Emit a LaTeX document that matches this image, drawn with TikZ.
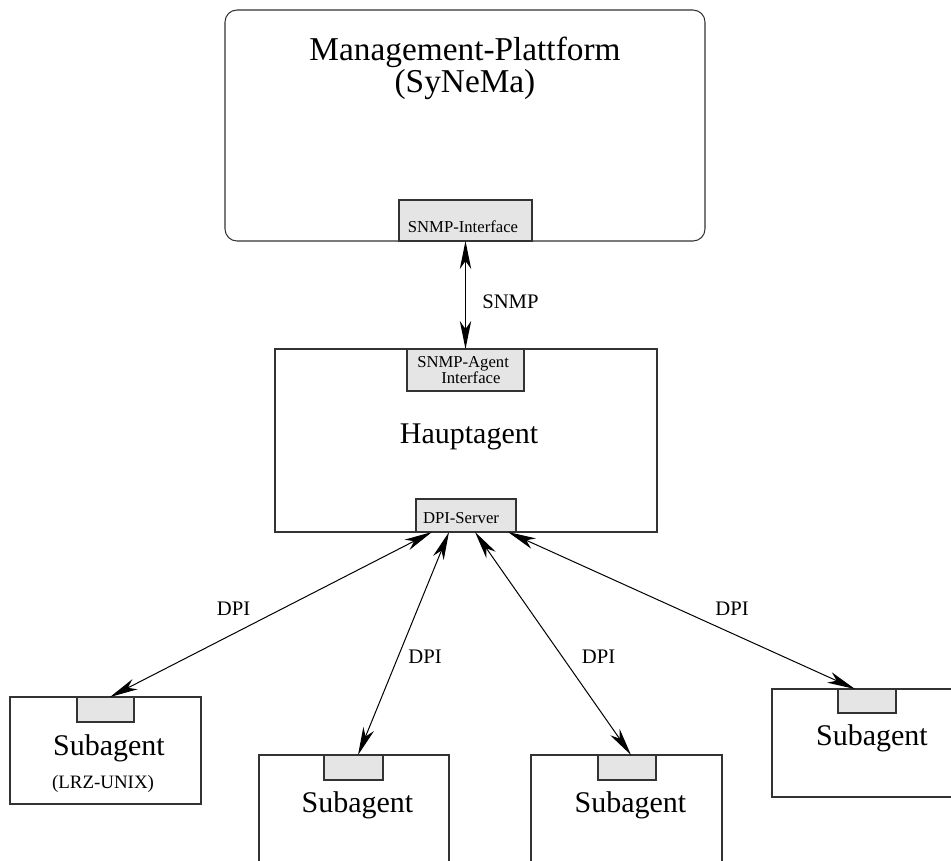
\documentclass[tikz,border=0pt]{standalone}
\usepackage{fontspec}
\setmainfont{Liberation Serif}
\usetikzlibrary{arrows.meta}
\definecolor{portgray}{HTML}{E5E5E5}
\definecolor{linegray}{HTML}{333333}
\begin{document}
\begin{tikzpicture}[x=0.75pt,y=-0.75pt,
  box/.style={draw=linegray, line width=0.8pt, inner sep=0pt, outer sep=0pt},
  port/.style={box, fill=portgray},
  lbl/.style={inner sep=0pt, anchor=base},
  big/.style={lbl, font=\fontsize{25}{30}\selectfont},
  mid/.style={lbl, font=\fontsize{22.5}{27}\selectfont},
  small/.style={lbl, font=\fontsize{12.5}{15}\selectfont},
  conn/.style={lbl, font=\fontsize{15.5}{18}\selectfont},
  arr/.style={{Stealth[length=21pt,width=8.5pt,inset=6pt]}-{Stealth[length=21pt,width=8.5pt,inset=6pt]}, line width=0.75pt}]
\useasboundingbox (0,0) rectangle (951,861);
\clip (0,0) rectangle (951,861);

% main boxes
\node[box, rounded corners=9pt, minimum width={480*0.75pt}, minimum height={231*0.75pt}] (mgmt) at (465,125.5) {};
\node[box, minimum width={382*0.75pt}, minimum height={183*0.75pt}] (haupt) at (466,440.5) {};
\node[box, minimum width={191*0.75pt}, minimum height={107*0.75pt}] (sub1) at (105.5,750.5) {};
\node[box, minimum width={190*0.75pt}, minimum height={150*0.75pt}] (sub2) at (354,830) {};
\node[box, minimum width={191*0.75pt}, minimum height={150*0.75pt}] (sub3) at (626.5,830) {};
\node[box, minimum width={191*0.75pt}, minimum height={108*0.75pt}] (sub4) at (867.5,743) {};

% ports
\node[port, minimum width={133*0.75pt}, minimum height={41*0.75pt}] (snmpif) at (465.5,220.5) {};
\node[port, minimum width={117*0.75pt}, minimum height={42*0.75pt}] (agentif) at (465.5,370) {};
\node[port, minimum width={100*0.75pt}, minimum height={33*0.75pt}] (dpi) at (466,515.5) {};
\node[port, minimum width={57*0.75pt}, minimum height={25*0.75pt}] (p1) at (105.5,709.5) {};
\node[port, minimum width={59*0.75pt}, minimum height={25*0.75pt}] (p2) at (353.5,767.5) {};
\node[port, minimum width={58*0.75pt}, minimum height={25*0.75pt}] (p3) at (627,767.5) {};
\node[port, minimum width={58*0.75pt}, minimum height={24*0.75pt}] (p4) at (867,701) {};

% texts
\node[big] (t1) at (465,60) {Management-Plattform};
\node[big] (t2) at (465,92) {(SyNeMa)};
\node[small] (tsi) at (463,232) {SNMP-Interface};
\node[small, anchor=base west] (tsa1) at (417,367) {SNMP-Agent};
\node[small, anchor=base west] (tsa2) at (441,383) {Interface};
\node[mid] (th) at (469,443) {Hauptagent};
\node[small] (tdpi) at (461,523) {DPI-Server};
\node[mid] (ts1) at (109,755) {Subagent};
\node[lbl, font=\fontsize{14.2}{17}\selectfont] (tlrz) at (103,788) {(LRZ-UNIX)};
\node[mid] (ts2) at (357.5,812) {Subagent};
\node[mid] (ts3) at (630.5,812) {Subagent};
\node[mid] (ts4) at (872,745) {Subagent};

% connectors
\draw[arr] (snmpif.south) -- (agentif.north);
\draw[arr] ([xshift=-25.5pt]dpi.south) -- ([xshift=3.4pt]p1.north);
\draw[arr] ([xshift=-12.75pt]dpi.south) -- ([xshift=3.4pt]p2.north);
\draw[arr] ([xshift=6.75pt]dpi.south) -- ([xshift=3pt]p3.north);
\draw[arr] ([xshift=31.5pt]dpi.south) -- ([xshift=-9pt]p4.north);

% connector labels
\node[conn, anchor=base west] (lsnmp) at (482,308) {SNMP};
\node[conn] (l1) at (233.5,615) {DPI};
\node[conn] (l2) at (425,663) {DPI};
\node[conn] (l3) at (598.5,663) {DPI};
\node[conn] (l4) at (732,615) {DPI};
\end{tikzpicture}
\end{document}
